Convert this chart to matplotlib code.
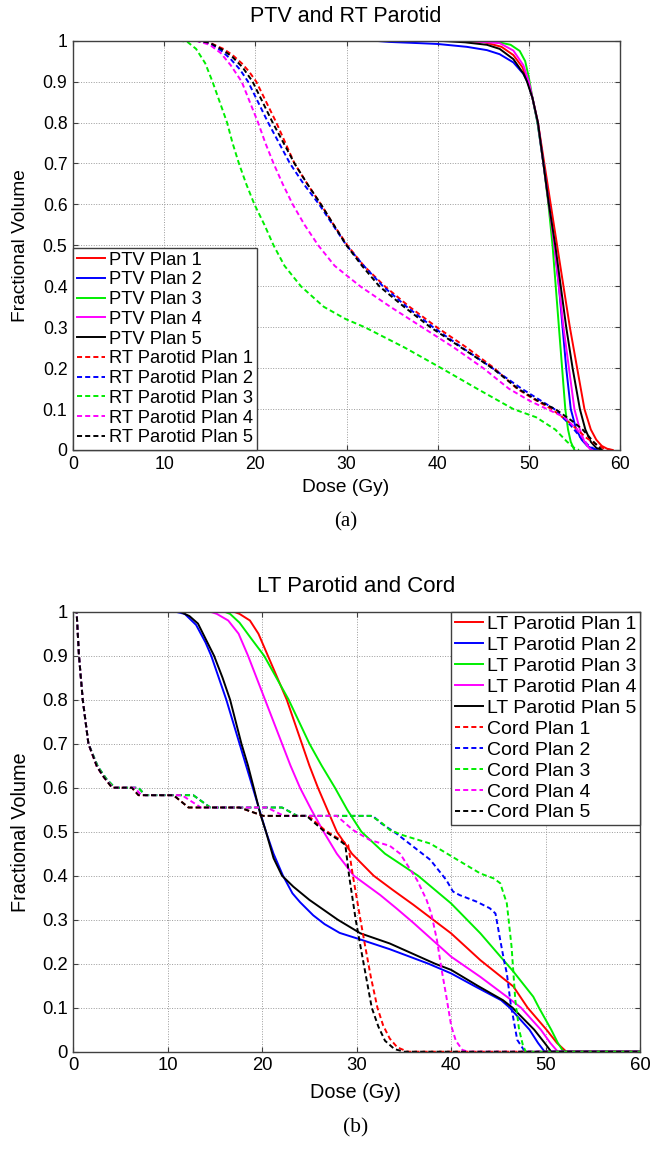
"""
Dose-volume histograms: PTV / RT parotid (a) and LT parotid / cord (b), 5 plans each.
"""
import matplotlib
matplotlib.use("Agg")
import matplotlib.pyplot as plt

plt.rcParams["font.family"] = ["Liberation Sans", "DejaVu Sans"]

# ---- panel (a): PTV (solid) ----
PTV1_D = [0, 42, 45, 47, 48.3, 49.3, 49.9, 50.4, 51.0, 51.7, 52.4, 53.1, 53.8, 54.5, 55.3, 56.1, 56.8, 57.4, 58.0, 58.6, 59.2]
PTV1_V = [1, 1, 0.997, 0.985, 0.965, 0.935, 0.9, 0.86, 0.8, 0.7, 0.6, 0.5, 0.4, 0.3, 0.2, 0.1, 0.05, 0.025, 0.01, 0.003, 0]
PTV2_D = [0, 33, 34.7, 38, 40, 43.2, 45.4, 46.8, 48.3, 49.4, 49.9, 50.4, 50.95, 51.6, 52.2, 52.8, 53.3, 53.7, 54.1, 54.6, 55.2, 55.8, 56.4, 57.0, 57.5]
PTV2_V = [1, 1, 0.997, 0.994, 0.992, 0.985, 0.977, 0.967, 0.947, 0.919, 0.898, 0.86, 0.8, 0.7, 0.6, 0.5, 0.4, 0.3, 0.2, 0.1, 0.05, 0.025, 0.01, 0.003, 0]
PTV3_D = [0, 44, 46.5, 48.0, 49.0, 49.6, 50.0, 50.4, 50.95, 51.6, 52.15, 52.6, 52.95, 53.3, 53.65, 54.0, 54.3, 54.6, 55.0]
PTV3_V = [1, 1, 0.997, 0.99, 0.975, 0.95, 0.91, 0.86, 0.8, 0.7, 0.6, 0.5, 0.4, 0.3, 0.2, 0.1, 0.05, 0.02, 0]
PTV4_D = [0, 43, 46.8, 48.3, 49.4, 50.0, 50.5, 51.0, 51.6, 52.2, 52.8, 53.3, 53.8, 54.4, 55.0, 55.6, 56.1, 56.6, 57.0]
PTV4_V = [1, 1, 0.994, 0.976, 0.94, 0.9, 0.85, 0.8, 0.7, 0.6, 0.5, 0.4, 0.3, 0.2, 0.1, 0.05, 0.02, 0.005, 0]
PTV5_D = [0, 40, 43, 45.4, 46.8, 48.3, 49.4, 49.8, 50.4, 51.0, 51.6, 52.2, 52.9, 53.5, 54.1, 54.8, 55.6, 56.2, 56.8, 57.4, 58.0]
PTV5_V = [1, 1, 0.996, 0.99, 0.98, 0.955, 0.92, 0.9, 0.86, 0.8, 0.7, 0.6, 0.5, 0.4, 0.3, 0.2, 0.1, 0.05, 0.02, 0.005, 0]

# ---- panel (a): RT parotid (dashed) ----
RTP1_D = [0, 13.5, 15.0, 16.5, 17.5, 18.5, 19.3, 20.1, 21.2, 22.3, 23.3, 24.3, 25.7, 27.2, 28.6, 30.1, 31.9, 34.2, 36.9, 39.9, 43.2, 46.2, 48.7, 50.5, 52.5, 54.3, 55.3, 56.3, 57.3, 58.2, 59.0]
RTP1_V = [1, 1, 0.995, 0.98, 0.965, 0.945, 0.925, 0.9, 0.85, 0.8, 0.75, 0.7, 0.65, 0.6, 0.55, 0.5, 0.45, 0.4, 0.35, 0.3, 0.25, 0.2, 0.15, 0.125, 0.1, 0.07, 0.05, 0.03, 0.015, 0.004, 0]
RTP2_D = [0, 13.5, 15.0, 16.3, 17.3, 18.3, 19.2, 20.3, 21.4, 22.6, 23.8, 25.3, 27.0, 28.5, 30.0, 31.9, 34.0, 36.6, 39.5, 42.7, 46.0, 49.2, 51.0, 52.8, 54.6, 55.7, 56.6, 57.4]
RTP2_V = [1, 1, 0.993, 0.975, 0.955, 0.93, 0.9, 0.85, 0.8, 0.75, 0.7, 0.65, 0.6, 0.55, 0.5, 0.45, 0.4, 0.35, 0.3, 0.25, 0.2, 0.15, 0.125, 0.1, 0.06, 0.03, 0.01, 0]
RTP3_D = [0, 11.5, 12.5, 13.5, 14.5, 15.3, 16.1, 16.9, 17.5, 18.2, 19.0, 19.9, 21.0, 22.0, 23.2, 25.0, 27.5, 29.9, 32.0, 36.4, 40.4, 44.3, 48.3, 50.8, 52.9, 54.2, 55.0, 55.5]
RTP3_V = [1, 1, 0.998, 0.98, 0.945, 0.9, 0.85, 0.8, 0.75, 0.7, 0.65, 0.6, 0.55, 0.5, 0.45, 0.4, 0.35, 0.32, 0.3, 0.25, 0.2, 0.15, 0.1, 0.08, 0.05, 0.02, 0.005, 0]
RTP4_D = [0, 13.5, 15.0, 16.2, 17.3, 18.5, 19.4, 20.3, 21.1, 22.0, 23.0, 24.1, 25.4, 26.9, 28.7, 31.5, 34.8, 38.3, 41.8, 45.0, 47.8, 50.1, 52.0, 53.9, 55.3, 56.2, 56.8]
RTP4_V = [1, 1, 0.99, 0.97, 0.94, 0.9, 0.85, 0.8, 0.75, 0.7, 0.65, 0.6, 0.55, 0.5, 0.45, 0.4, 0.35, 0.3, 0.25, 0.2, 0.15, 0.12, 0.1, 0.08, 0.05, 0.02, 0]
RTP5_D = [0, 13.5, 15.0, 16.4, 17.5, 18.6, 19.7, 20.8, 21.9, 23.1, 24.3, 25.7, 27.2, 28.6, 30.0, 31.7, 33.6, 36.3, 39.2, 42.6, 46.0, 48.8, 51.0, 52.9, 54.8, 55.9, 57.1, 58.0]
RTP5_V = [1, 1, 0.995, 0.978, 0.96, 0.935, 0.9, 0.85, 0.8, 0.75, 0.7, 0.65, 0.6, 0.55, 0.5, 0.45, 0.4, 0.35, 0.3, 0.25, 0.2, 0.15, 0.12, 0.1, 0.07, 0.05, 0.02, 0]

# ---- panel (b): LT parotid (solid) ----
LTP1_D = [0, 17.0, 17.6, 18.7, 19.6, 20.6, 21.6, 22.6, 23.4, 24.2, 25.0, 25.9, 26.9, 27.9, 29.5, 31.8, 33.8, 36.0, 40.0, 43.1, 46.6, 48.1, 50.1, 51.2, 52.2, 60]
LTP1_V = [1, 1, 0.995, 0.98, 0.95, 0.9, 0.85, 0.8, 0.75, 0.7, 0.65, 0.6, 0.55, 0.5, 0.45, 0.4, 0.368, 0.334, 0.269, 0.208, 0.148, 0.1, 0.05, 0.02, 0, 0]
LTP2_D = [0, 10.8, 11.8, 13.0, 14.0, 14.6, 15.4, 16.2, 16.9, 17.6, 18.3, 19.0, 19.7, 20.4, 21.2, 22.2, 23.2, 24.0, 25.4, 26.6, 28.2, 30.4, 33.5, 37.6, 40.0, 42.4, 45.3, 46.2, 48.3, 49.2, 49.9, 60]
LTP2_V = [1, 1, 0.995, 0.97, 0.93, 0.9, 0.85, 0.8, 0.75, 0.7, 0.65, 0.6, 0.55, 0.5, 0.45, 0.4, 0.36, 0.34, 0.31, 0.29, 0.27, 0.255, 0.233, 0.2, 0.178, 0.15, 0.117, 0.1, 0.05, 0.02, 0, 0]
LTP3_D = [0, 16.0, 16.6, 17.6, 18.8, 20.2, 21.5, 22.8, 23.9, 25.0, 26.3, 27.7, 29.0, 30.5, 33.0, 36.5, 40.0, 43.1, 46.6, 48.7, 49.3, 50.6, 51.3, 51.9, 60]
LTP3_V = [1, 1, 0.995, 0.975, 0.94, 0.9, 0.85, 0.8, 0.75, 0.7, 0.65, 0.6, 0.55, 0.5, 0.45, 0.4, 0.337, 0.269, 0.182, 0.125, 0.1, 0.05, 0.02, 0, 0]
LTP4_D = [0, 14.5, 15.2, 16.4, 17.5, 18.5, 19.4, 20.3, 21.2, 22.1, 23.0, 24.0, 25.2, 26.5, 27.9, 29.7, 32.5, 34.2, 36.0, 40.0, 43.1, 45.9, 47.4, 49.5, 50.5, 51.3, 60]
LTP4_V = [1, 1, 0.995, 0.98, 0.95, 0.9, 0.85, 0.8, 0.75, 0.7, 0.65, 0.6, 0.55, 0.5, 0.45, 0.4, 0.356, 0.326, 0.293, 0.216, 0.17, 0.125, 0.1, 0.05, 0.02, 0, 0]
LTP5_D = [0, 11.3, 12.3, 13.2, 14.2, 14.9, 15.8, 16.6, 17.2, 17.8, 18.5, 19.1, 19.8, 20.4, 21.2, 22.1, 23.3, 25.0, 28.0, 30.4, 33.5, 38.3, 40.0, 42.8, 45.5, 46.5, 48.8, 49.9, 50.6, 60]
LTP5_V = [1, 1, 0.99, 0.973, 0.93, 0.9, 0.85, 0.8, 0.75, 0.7, 0.65, 0.6, 0.54, 0.5, 0.44, 0.4, 0.375, 0.345, 0.3, 0.269, 0.246, 0.2, 0.186, 0.15, 0.117, 0.1, 0.05, 0.02, 0, 0]

# ---- panel (b): cord (dashed) ----
CORD1_D = [0, 0.35, 0.6, 1.0, 1.6, 2.5, 3.2, 4.1, 6.2, 6.9, 10.6, 12.2, 17.6, 20.1, 24.9, 26.6, 28.4, 29.1, 29.6, 30.4, 30.9, 31.5, 32.2, 32.8, 33.5, 34.3, 35.4, 60]
CORD1_V = [1, 1, 0.9, 0.8, 0.7, 0.648, 0.625, 0.6, 0.6, 0.583, 0.583, 0.555, 0.555, 0.536, 0.536, 0.504, 0.48, 0.47, 0.4, 0.3, 0.24, 0.17, 0.1, 0.06, 0.03, 0.01, 0, 0]
CORD2_D = [0, 0.35, 0.6, 1.0, 1.6, 2.6, 3.5, 4.4, 6.9, 7.6, 12.7, 14.5, 22.1, 23.7, 31.7, 32.6, 34.2, 36.0, 37.8, 39.5, 40.2, 40.9, 42.7, 44.1, 44.7, 45.2, 45.6, 45.9, 46.3, 47.0, 47.7, 48.2, 60]
CORD2_V = [1, 1, 0.9, 0.8, 0.7, 0.648, 0.62, 0.6, 0.6, 0.583, 0.583, 0.555, 0.555, 0.536, 0.536, 0.519, 0.496, 0.466, 0.436, 0.39, 0.364, 0.356, 0.341, 0.326, 0.314, 0.254, 0.208, 0.178, 0.11, 0.027, 0.004, 0, 0]
CORD3_D = [0, 0.35, 0.6, 1.0, 1.6, 2.6, 3.5, 4.4, 6.9, 7.6, 12.7, 14.5, 22.1, 23.7, 31.5, 32.5, 33.5, 34.9, 37.8, 41.3, 43.1, 44.5, 45.2, 45.9, 46.4, 46.8, 47.2, 47.6, 47.9, 60]
CORD3_V = [1, 1, 0.9, 0.8, 0.7, 0.648, 0.62, 0.6, 0.6, 0.583, 0.583, 0.555, 0.555, 0.536, 0.536, 0.523, 0.504, 0.492, 0.473, 0.428, 0.405, 0.394, 0.383, 0.337, 0.239, 0.117, 0.05, 0.015, 0, 0]
CORD4_D = [0, 0.35, 0.6, 1.0, 1.6, 2.5, 3.3, 4.2, 6.5, 7.2, 11.5, 13.5, 20.5, 22.3, 27.9, 29.6, 31.4, 33.5, 34.6, 35.5, 36.4, 37.4, 37.9, 38.5, 39.0, 39.5, 40.0, 40.5, 41.2, 41.8, 60]
CORD4_V = [1, 1, 0.9, 0.8, 0.7, 0.648, 0.622, 0.6, 0.6, 0.583, 0.583, 0.555, 0.555, 0.536, 0.536, 0.504, 0.481, 0.468, 0.45, 0.42, 0.39, 0.345, 0.314, 0.254, 0.186, 0.125, 0.06, 0.025, 0.004, 0, 0]
CORD5_D = [0, 0.35, 0.6, 1.0, 1.6, 2.5, 3.2, 4.1, 6.2, 6.9, 10.6, 12.2, 17.6, 20.1, 24.7, 26.4, 28.2, 28.8, 29.2, 29.9, 30.4, 31.0, 31.6, 32.3, 33.0, 34.0, 35.0, 60]
CORD5_V = [1, 1, 0.9, 0.8, 0.7, 0.648, 0.625, 0.6, 0.6, 0.583, 0.583, 0.555, 0.555, 0.536, 0.536, 0.504, 0.48, 0.47, 0.4, 0.3, 0.24, 0.17, 0.1, 0.057, 0.025, 0.006, 0, 0]

COLORS = ["#ff0000", "#0000ff", "#00ee00", "#ff00ff", "#000000"]
EDGE = "#404040"
W, H = 665, 1149


def px(x0, y0, x1, y1):
    # pixel box (top-left origin) -> figure-fraction rect
    return [x0 / W, 1 - y1 / H, (x1 - x0) / W, (y1 - y0) / H]


def style_axes(ax, tick_fs):
    ax.set_xlim(0, 60)
    ax.set_ylim(0, 1)
    ax.set_xticks(range(0, 61, 10))
    ax.set_yticks([i / 10 for i in range(11)])
    ax.set_yticklabels(["0"] + [f"{i / 10:g}" for i in range(1, 10)] + ["1"])
    ax.grid(True, color="#9a9a9a", ls=(0, (1, 1.6)), lw=0.7)
    ax.set_axisbelow(True)
    ax.tick_params(direction="in", top=True, right=True, length=3.6, width=0.8,
                   color=EDGE, labelsize=tick_fs, pad=4)
    for s in ax.spines.values():
        s.set_color(EDGE)
        s.set_linewidth(1.0)


def draw(ax, series, labels):
    for (d, v), lab, c, ls in zip(series, labels, COLORS * 2, ["-"] * 5 + ["--"] * 5):
        line, = ax.plot(d, v, color=c, lw=1.4, label=lab)
        if ls == "--":
            line.set_dashes((2.6, 1.6))


def main():
    fig = plt.figure(figsize=(W / 100, H / 100), dpi=100)

    # (a)
    ax = fig.add_axes(px(73, 40.7, 620, 450))
    style_axes(ax, 12.7)
    draw(ax, [(PTV1_D, PTV1_V), (PTV2_D, PTV2_V), (PTV3_D, PTV3_V), (PTV4_D, PTV4_V), (PTV5_D, PTV5_V),
              (RTP1_D, RTP1_V), (RTP2_D, RTP2_V), (RTP3_D, RTP3_V), (RTP4_D, RTP4_V), (RTP5_D, RTP5_V)],
         [f"PTV Plan {i}" for i in range(1, 6)] + [f"RT Parotid Plan {i}" for i in range(1, 6)])
    leg = ax.legend(loc="lower left", borderaxespad=0, fontsize=13.2, fancybox=False,
                    framealpha=1, edgecolor=EDGE, borderpad=0.2, labelspacing=0.15,
                    handlelength=1.57, handletextpad=0.2)
    leg.get_frame().set_linewidth(1.0)
    fig.text(346 / W, 1 - 16.7 / H, "PTV and RT Parotid", ha="center", va="center", fontsize=15.5)
    fig.text(21 / W, 1 - 246 / H, "Fractional Volume", ha="center", va="center",
             rotation=90, fontsize=13.8)
    fig.text(346 / W, 1 - 488 / H, "Dose (Gy)", ha="center", va="center", fontsize=13.8)
    fig.text(346 / W, 1 - 522 / H, "(a)", ha="center", va="center", fontsize=15,
             family=["Liberation Serif", "DejaVu Serif"])

    # (b)
    ax = fig.add_axes(px(73.3, 611.7, 640, 1051.7))
    style_axes(ax, 13.3)
    draw(ax, [(LTP1_D, LTP1_V), (LTP2_D, LTP2_V), (LTP3_D, LTP3_V), (LTP4_D, LTP4_V), (LTP5_D, LTP5_V),
              (CORD1_D, CORD1_V), (CORD2_D, CORD2_V), (CORD3_D, CORD3_V), (CORD4_D, CORD4_V), (CORD5_D, CORD5_V)],
         [f"LT Parotid Plan {i}" for i in range(1, 6)] + [f"Cord Plan {i}" for i in range(1, 6)])
    leg = ax.legend(loc="upper right", borderaxespad=0, fontsize=14, fancybox=False,
                    framealpha=1, edgecolor=EDGE, borderpad=0.2, labelspacing=0.17,
                    handlelength=1.44, handletextpad=0.17)
    leg.get_frame().set_linewidth(1.0)
    fig.text(356 / W, 1 - 586.7 / H, "LT Parotid and Cord", ha="center", va="center", fontsize=16)
    fig.text(21 / W, 1 - 832 / H, "Fractional Volume", ha="center", va="center",
             rotation=90, fontsize=14.3)
    fig.text(356 / W, 1 - 1093 / H, "Dose (Gy)", ha="center", va="center", fontsize=14.3)
    fig.text(356 / W, 1 - 1128 / H, "(b)", ha="center", va="center", fontsize=15.5,
             family=["Liberation Serif", "DejaVu Serif"])

    fig.savefig("out.png", dpi=100)


if __name__ == "__main__":
    main()
